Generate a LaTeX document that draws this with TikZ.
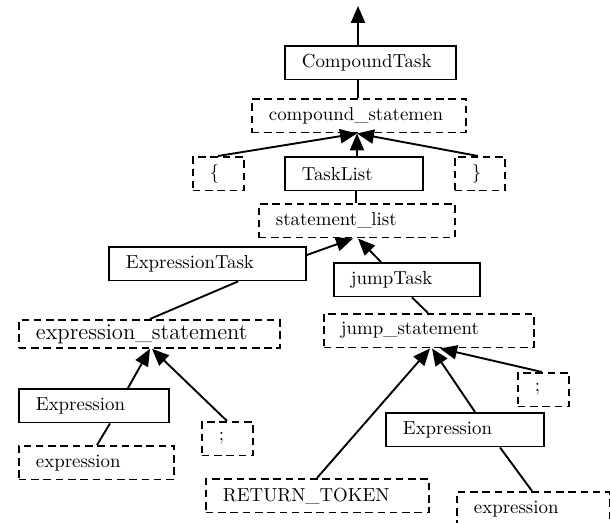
\documentclass[tikz,border=0pt]{standalone}
\usetikzlibrary{arrows.meta, calc}
\tikzset{>={Triangle[length=9pt, width=7.5pt]},
  box/.style={draw, line width=1pt, anchor=north west, inner xsep=9pt, inner ysep=1pt, minimum height=17.8pt, align=left},
  task/.style={box},
  gram/.style={box, dash pattern=on 4pt off 2.5pt},
  link/.style={line width=1pt}}

\begin{document}
\begin{tikzpicture}[x=0.53pt, y=-0.53pt]
\useasboundingbox (0,0) rectangle (610,523);
\clip (0,0) rectangle (610,523);
\node[task, text width=72.6pt] (ctask) at (284,45) {CompoundTask};
\node[gram, text width=95.4pt] (cstmt) at (251,98) {compound\_statemen};
\node[gram, text width=9pt] (lbrace) at (192,156) {\{};
\node[task, text width=55.1pt] (tlist) at (284,156) {TaskList};
\node[gram, text width=8.5pt] (rbrace) at (454,156) {\}};
\node[gram, text width=85.9pt] (slist) at (258,203) {statement\_list};
\node[task, text width=86.4pt] (etask) at (108,246) {ExpressionTask};
\node[task, text width=59.4pt] (jtask) at (333,262) {jumpTask};
\node[gram, text width=120.3pt, minimum height=14.8pt, font=\large] (estmt) at (18,319) {expression\_statement};
\node[gram, text width=93.3pt] (jstmt) at (323,313) {jump\_statement};
\node[task, text width=61.5pt] (exprL) at (18,388) {Expression};
\node[gram, text width=9pt] (semiL) at (201,421) {;};
\node[gram, text width=64.1pt] (exprlowL) at (18,445) {expression};
\node[gram, text width=9pt] (semiR) at (517,372) {;};
\node[task, text width=65.7pt] (exprR) at (385,412) {Expression};
\node[gram, text width=100.2pt] (ret) at (205,478) {RETURN\_TOKEN};
\node[gram, text width=63.1pt] (exprlowR) at (456,491) {expression};
\coordinate (top) at (358,6);
\draw[link, ->] ($(ctask.north west)+(74,0)$) -- (top);
\draw[link] ($(ctask.south west)+(74,0)$) -- ($(cstmt.north west)+(107,0)$);
\draw[link, ->] ($(lbrace.north west)+(26,0)$) -- ($(cstmt.south west)+(106,0)$);
\draw[link, ->] ($(tlist.north west)+(73,0)$) -- ($(cstmt.south west)+(106,0)$);
\draw[link, ->] ($(rbrace.north west)+(24,0)$) -- ($(cstmt.south west)+(106,0)$);
\draw[link] ($(tlist.south west)+(72,0)$) -- ($(slist.north west)+(98,0)$);
\draw[link, ->] ($(etask.north east)+(0,9)$) -- ($(slist.south west)+(95,0)$);
\draw[link, ->] ($(jtask.north west)+(48,0)$) -- ($(slist.south west)+(100,0)$);
\draw[link] ($(etask.south west)+(130,0)$) -- ($(estmt.north west)+(132,0)$);
\draw[link] ($(jtask.south west)+(79,0)$) -- ($(jstmt.north west)+(105,0)$);
\draw[link, ->] ($(exprL.north west)+(110,0)$) -- ($(estmt.south west)+(132,0)$);
\draw[link, ->] ($(semiL.north west)+(26,0)$) -- ($(estmt.south west)+(134,0)$);
\draw[link] ($(exprL.south west)+(92,0)$) -- ($(exprlowL.north west)+(79,0)$);
\draw[link, ->] ($(ret.north west)+(112,0)$) -- ($(jstmt.south west)+(107,0)$);
\draw[link, ->] ($(exprR.north west)+(90,0)$) -- ($(jstmt.south west)+(109,0)$);
\draw[link, ->] ($(semiR.north west)+(25,0)$) -- ($(jstmt.south west)+(117,0)$);
\draw[link] ($(exprR.south west)+(115,0)$) -- ($(exprlowR.north west)+(76,0)$);
\end{tikzpicture}
\end{document}
